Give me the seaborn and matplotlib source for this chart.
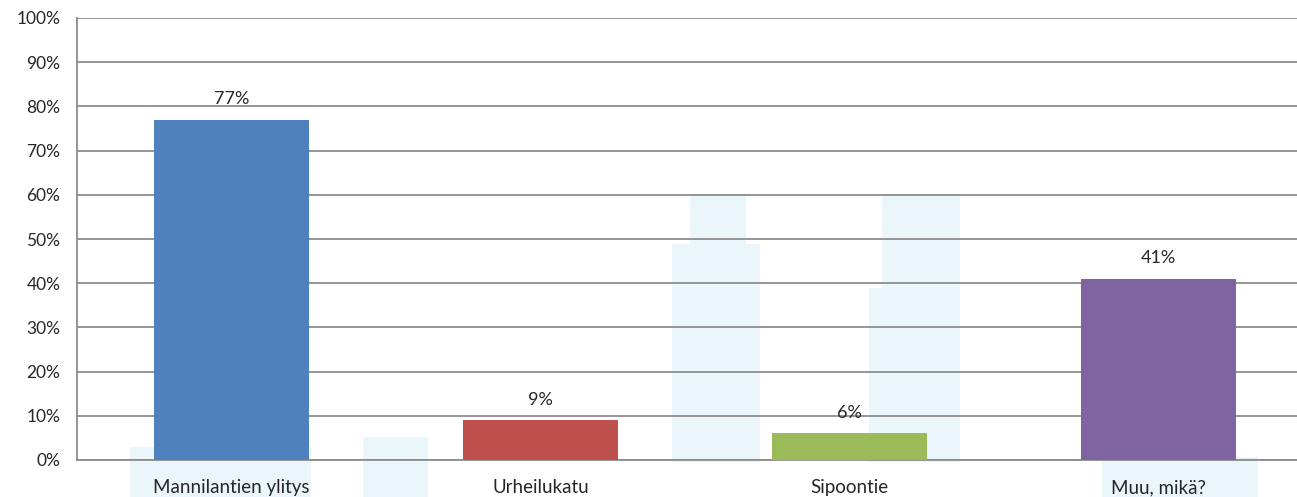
import numpy as np
import pandas as pd
import seaborn as sns
import matplotlib.pyplot as plt
from matplotlib.patches import Rectangle
from matplotlib.ticker import PercentFormatter

categories = ["Mannilantien ylitys", "Urheilukatu", "Sipoontie", "Muu, mikä?"]
values = [77, 9, 6, 41]
colors = ["#4F81BD", "#C0504D", "#9BBB59", "#8064A2"]

sns.set_style("white")
plt.rcParams['font.family'] = ['Lato', 'DejaVu Sans']

df = pd.DataFrame({"cat": categories, "val": values})

fig = plt.figure(figsize=(12.97, 4.97), dpi=100)
fig.patch.set_facecolor("white")

# faint building watermark in the background
for (x0, y0, w, h) in [(0.518, 0.07, 0.068, 0.44), (0.532, 0.07, 0.043, 0.54),
                       (0.68, 0.07, 0.06, 0.54), (0.67, 0.07, 0.02, 0.35),
                       (0.28, 0.0, 0.05, 0.12), (0.85, 0.0, 0.12, 0.08),
                       (0.1, 0.0, 0.14, 0.1)]:
    fig.patches.append(Rectangle((x0, y0), w, h, transform=fig.transFigure,
                                 facecolor="#EAF6FA", edgecolor="none", zorder=0))

ax = fig.add_axes([77/1297, 37/497, 1236/1297, 442/497])
ax.set_zorder(2)
ax.set_facecolor("none")
sns.barplot(data=df, x="cat", y="val", hue="cat", palette=colors, legend=False,
            width=0.5, saturation=1, linewidth=0, ax=ax, zorder=3)

ax.set_ylim(0, 100)
ax.set_xlim(-0.5, 3.5)
ax.set_yticks(np.arange(0, 101, 10))
ax.yaxis.set_major_formatter(PercentFormatter(decimals=0))
ax.grid(axis="y", color="#8C8C8C", linewidth=1.3, zorder=1)
ax.set_axisbelow(True)
ax.set_xlabel("")
ax.set_ylabel("")
for s in ["top", "right"]:
    ax.spines[s].set_visible(False)
for s in ["left", "bottom"]:
    ax.spines[s].set_color("#8C8C8C")
    ax.spines[s].set_linewidth(1.3)
ax.tick_params(axis="y", length=0, pad=12, labelsize=12.5)
ax.tick_params(axis="x", length=0, pad=14, labelsize=13.5)

for c in ax.containers:
    ax.bar_label(c, labels=[f"{v}%" for v in c.datavalues.astype(int)],
                 padding=9, fontsize=13)

fig.savefig("out.png", dpi=100)
